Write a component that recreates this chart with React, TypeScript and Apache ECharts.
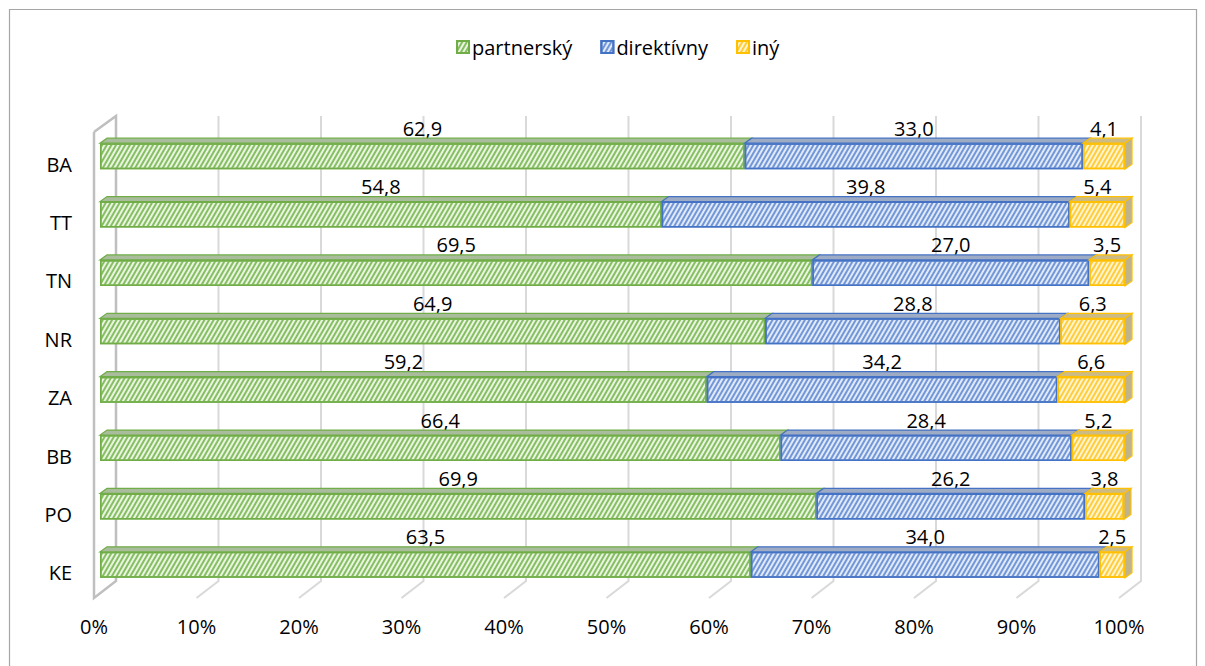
import React, { useEffect, useRef } from 'react';
import * as echarts from 'echarts';

const categories = ['BA', 'TT', 'TN', 'NR', 'ZA', 'BB', 'PO', 'KE'];
const partnersky = [62.9, 54.8, 69.5, 64.9, 59.2, 66.4, 69.9, 63.5];
const direktivny = [33.0, 39.8, 27.0, 28.8, 34.2, 28.4, 26.2, 34.0];
const iny = [4.1, 5.4, 3.5, 6.3, 6.6, 5.2, 3.8, 2.5];
const seriesNames = ['partnerský', 'direktívny', 'iný'];
const xTicks = [0, 10, 20, 30, 40, 50, 60, 70, 80, 90, 100];

const FONT = '"Open Sans", Lato, sans-serif';
const edge = ['#70AD47', '#4472C4', '#FFC000'];
const fillLight = ['#eaf4e2', '#e2e9f7', '#fff4d2'];
const stripe = ['#86bf62', '#7197d8', '#ffcd3a'];
const topFill = ['#a9bd9c', '#9eabc4', '#cdbb84'];
const sideFill = '#bfb38c';

export default function App() {
  const ref = useRef<HTMLDivElement>(null);
  useEffect(() => {
    if (!ref.current) return;
    const chart = echarts.init(ref.current, undefined, { renderer: 'svg' });
    const values = [partnersky, direktivny, iny];
    const faceData: number[][] = [];
    categories.forEach((_, ci) => {
      let acc = 0;
      values.forEach((arr, si) => {
        faceData.push([acc, ci, acc + arr[ci], si]);
        acc += arr[ci];
      });
    });
    const DX = 7, DY = 5, BW = 26;
    const fmt = (p: any) => Number(p.value).toFixed(1).replace('.', ',');
    const option: any = {
      animation: false,
      backgroundColor: '#ffffff',
      textStyle: { fontFamily: FONT },
      legend: {
        data: seriesNames,
        left: 451,
        top: 32,
        icon: 'rect',
        itemWidth: 12,
        itemHeight: 12,
        itemGap: 28,
        textStyle: { fontSize: 20, color: '#000', fontFamily: FONT, padding: [0, 0, 0, -2] },
      },
      grid: [
        { left: 100, width: 1025, top: 127, height: 467 },
        { left: 94, width: 1025, top: 135, height: 467 },
      ],
      xAxis: [
        { gridIndex: 0, type: 'value', min: 0, max: 100, show: false },
        {
          gridIndex: 1, type: 'value', min: 0, max: 100, interval: 10,
          axisLine: { show: false }, axisTick: { show: false }, splitLine: { show: false },
          axisLabel: { formatter: '{value}%', fontSize: 20, color: '#000', fontFamily: FONT, margin: 14 },
        },
      ],
      yAxis: [
        { gridIndex: 0, type: 'category', data: categories, inverse: true, show: false },
        {
          gridIndex: 1, type: 'category', data: categories, inverse: true,
          axisLine: { show: false }, axisTick: { show: false }, splitLine: { show: false },
          axisLabel: { fontSize: 20, color: '#000', fontFamily: FONT, margin: 22 },
        },
      ],
      graphic: [
        {
          type: 'rect', silent: true, z: -10,
          shape: { x: 9.5, y: 9.5, width: 1187, height: 700 },
          style: { fill: 'none', stroke: '#a6a6a6', lineWidth: 1.2 },
        },
      ],
      series: [
        {
          type: 'custom', name: 'frame', xAxisIndex: 0, yAxisIndex: 0, silent: true, z: 0,
          data: xTicks.map((t) => [t, 0]),
          encode: { x: 0, y: 1 },
          renderItem: (params: any, api: any) => {
            const cs = params.coordSys;
            const t = api.value(0);
            const cx = api.coord([t, 0])[0];
            const bx = cx + 16, fx = cx - 6;
            const topB = cs.y - 11, floorB = cs.y + cs.height - 13, floorF = cs.y + cs.height + 4;
            const children: any[] = [];
            if (t === 0) {
              children.push({
                type: 'polyline',
                shape: { points: [[fx, cs.y + 5], [bx, topB], [bx, floorB], [fx, floorF], [fx, cs.y + 5]] },
                style: { stroke: '#bfbfbf', lineWidth: 2.5, fill: 'none' },
              });
            } else {
              children.push({
                type: 'polyline',
                shape: { points: [[bx, topB], [bx, floorB], [fx, floorF]] },
                style: { stroke: '#d9d9d9', lineWidth: 2, fill: 'none' },
              });
            }
            return { type: 'group', children };
          },
        },
        ...values.map((arr, si) => ({
          type: 'bar',
          name: seriesNames[si],
          xAxisIndex: 0,
          yAxisIndex: 0,
          stack: 'total',
          barWidth: BW,
          z: 2,
          data: arr,
          itemStyle: {
            color: fillLight[si],
            borderColor: edge[si],
            borderWidth: 1.5,
            decal: {
              symbol: 'rect',
              symbolSize: 1,
              color: stripe[si],
              dashArrayX: [1, 0],
              dashArrayY: [2, 2],
              rotation: -Math.PI / 3,
            },
          },
          label: {
            show: true,
            position: 'top',
            distance: 5,
            formatter: fmt,
            fontSize: 20,
            color: '#000',
            fontFamily: FONT,
          },
        })),
        {
          type: 'custom', name: 'faces', xAxisIndex: 0, yAxisIndex: 0, silent: true, z: 3,
          data: faceData,
          encode: { x: [0, 2], y: 1 },
          renderItem: (params: any, api: any) => {
            const s = api.value(0), ci = api.value(1), e = api.value(2), si = api.value(3);
            const p0 = api.coord([s, ci]);
            const p1 = api.coord([e, ci]);
            const yT = p0[1] - BW / 2, yB = p0[1] + BW / 2;
            const children: any[] = [
              {
                type: 'polygon',
                shape: { points: [[p0[0], yT], [p1[0], yT], [p1[0] + DX, yT - DY], [p0[0] + DX, yT - DY]] },
                style: { fill: topFill[si], stroke: edge[si], lineWidth: 1.2 },
              },
            ];
            if (si === 2) {
              children.push({
                type: 'polygon',
                shape: { points: [[p1[0], yT], [p1[0] + DX, yT - DY], [p1[0] + DX, yB - DY], [p1[0], yB]] },
                style: { fill: sideFill, stroke: edge[si], lineWidth: 1.2 },
              });
            }
            return { type: 'group', children };
          },
        },
      ],
    };
    chart.setOption(option);
    return () => chart.dispose();
  }, []);
  return (
    <div
      ref={ref}
      style={{ position: 'fixed', left: 0, top: 0, width: 1205, height: 666 }}
    />
  );
}
